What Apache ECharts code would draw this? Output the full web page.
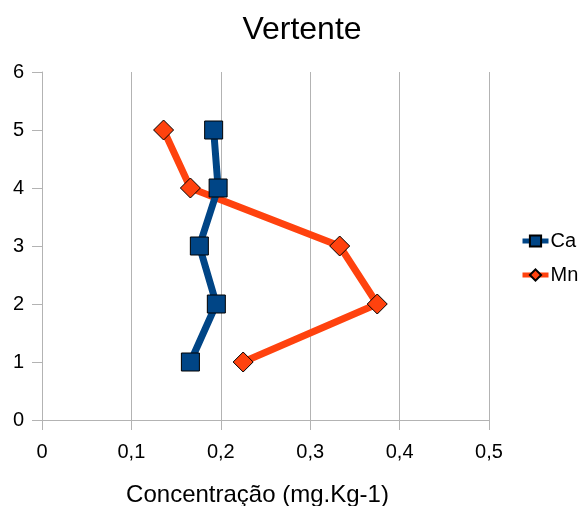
<!DOCTYPE html>
<html><head><meta charset="utf-8">
<script src="https://cdn.jsdelivr.net/npm/echarts@6/dist/echarts.min.js"></script>
<style>html,body{margin:0;padding:0;background:#fff}#c{width:580px;height:506px}</style>
</head><body><div id="c"></div>
<script>
var depths = [1, 2, 3, 4, 5];
var caValues = [0.166, 0.195, 0.176, 0.197, 0.192];
var mnValues = [0.225, 0.375, 0.333, 0.166, 0.136];
var xTicks = [0, 0.1, 0.2, 0.3, 0.4, 0.5];

function pairs(vals){ return vals.map(function(v,i){ return [v, depths[i]]; }); }
var chart = echarts.init(document.getElementById('c'));
var font = 'Liberation Sans, Arial, sans-serif';
chart.setOption({
  animation:false,
  title:{text:'Vertente', left:297, top:9, textAlign:'center',
    textStyle:{fontFamily:font, fontSize:32, fontWeight:'normal', color:'#000'}},
  grid:{left:42, right:91, top:72, bottom:86, containLabel:false, outerBoundsMode:'none'},
  legend:{orient:'vertical', left:515, top:226, itemGap:14, itemWidth:26, itemHeight:14,
    lineStyle:{width:5},
    textStyle:{fontFamily:font, fontSize:20, color:'#000', padding:[0,0,0,-3]},
    data:['Ca','Mn']},
  xAxis:{type:'value', min:0, max:0.5, interval:0.1,
    name:'Concentração (mg.Kg-1)', nameLocation:'middle', nameGap:63,
    nameTextStyle:{fontFamily:font, fontSize:24, color:'#000', padding:[0,16,0,0]},
    axisLine:{lineStyle:{color:'#b3b3b3'}},
    axisTick:{show:true, length:10, lineStyle:{color:'#b3b3b3'}},
    axisLabel:{fontFamily:font, fontSize:20, color:'#000', margin:22,
      formatter:function(v){ return String(v).replace('.', ','); }},
    splitLine:{show:true, lineStyle:{color:'#b3b3b3'}}},
  yAxis:{type:'value', min:0, max:6, interval:1,
    axisLine:{show:true, lineStyle:{color:'#b3b3b3'}},
    axisTick:{show:true, length:10, lineStyle:{color:'#b3b3b3'}},
    axisLabel:{fontFamily:font, fontSize:20, color:'#000', margin:18},
    splitLine:{show:false}},
  series:[
    {name:'Ca', type:'line', data:pairs(caValues), symbol:'rect', symbolSize:18,
     lineStyle:{color:'#004586', width:7}, itemStyle:{color:'#004586', borderColor:'#000', borderWidth:1}, z:3},
    {name:'Mn', type:'line', data:pairs(mnValues), symbol:'diamond', symbolSize:20,
     lineStyle:{color:'#ff420e', width:7}, itemStyle:{color:'#ff420e', borderColor:'#000', borderWidth:1}, z:2}
  ]
});
</script></body></html>
